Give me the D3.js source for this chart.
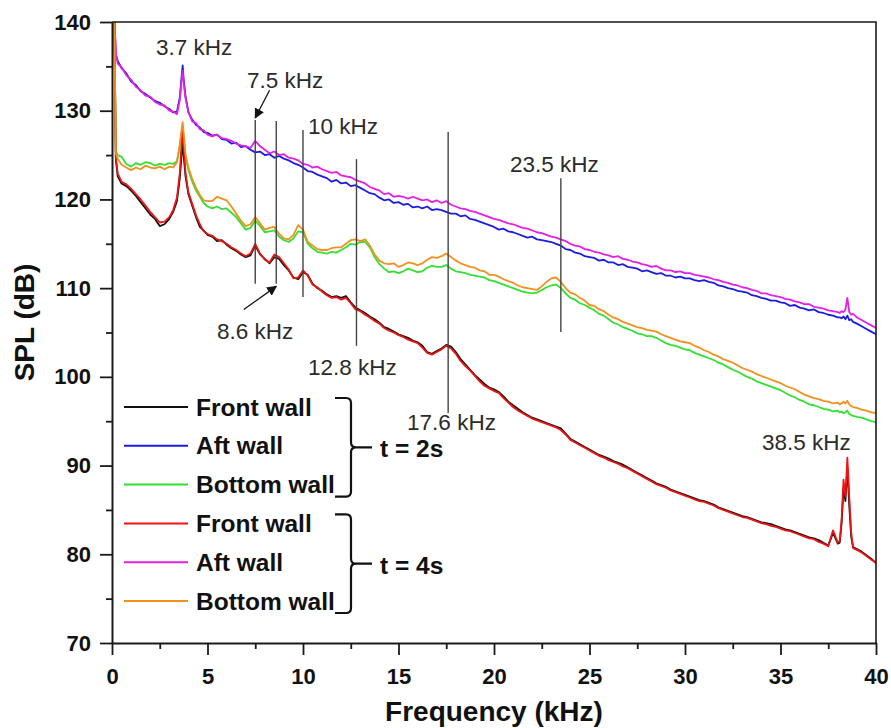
<!DOCTYPE html>
<html>
<head>
<meta charset="utf-8">
<script src="https://cdn.jsdelivr.net/npm/d3@7"></script>
<style>
  html, body { margin: 0; padding: 0; background: #fff; }
  svg { display: block; font-family: "Liberation Sans", Arial, Helvetica, sans-serif; }
</style>
</head>
<body>
<svg id="chart" width="891" height="728"></svg>
<script>
// Sample frequencies (kHz) shared by all six spectra
const freqKHz = [
  0.12,0.2,0.3,0.5,0.75,1,1.25,1.5,1.75,2,2.25,2.5,2.75,3,3.2,3.4,3.55,3.65,3.7,3.75,3.85,4,4.2,4.4,4.6,4.8,5,
  5.25,5.5,5.75,6, 6.25,6.5,6.75,7, 7.25,7.5,7.75,8, 8.25,8.5,8.75,9, 9.25,9.5,9.75,10,
  10.25,10.5,10.75,11, 11.25,11.5,11.75,12, 12.25,12.5,12.75,13, 13.25,13.5,13.75,14, 14.25,14.5,14.75,15,
  15.25,15.5,15.75,16, 16.25,16.5,16.75,17, 17.25,17.5,17.75,18, 18.25,18.5,18.75,19, 19.25,19.5,19.75,20,
  20.25,20.5,20.75,21, 21.25,21.5,21.75,22, 22.25,22.5,22.75,23, 23.25,23.5,23.75,24, 24.25,24.5,24.75,25,
  25.25,25.5,25.75,26, 26.25,26.5,26.75,27, 27.25,27.5,27.75,28, 28.25,28.5,28.75,29, 29.25,29.5,29.75,30,
  30.25,30.5,30.75,31, 31.25,31.5,31.75,32, 32.25,32.5,32.75,33, 33.25,33.5,33.75,34, 34.25,34.5,34.75,35,
  35.25,35.5,35.75,36, 36.25,36.5,36.75,37, 37.25,37.5,37.75,38,
  38.1,38.2,38.3,38.4,38.5,38.6,38.7,38.8,39,39.25,39.5,39.75,40
];

// SPL (dB) at t = 2 s
const frontWall2s = [
  141,124.5,122.6,121.8,121.5,121.0,120.4,119.7,119.0,118.3,117.8,117.0,117.2,117.8,118.6,119.8,122.4,125.2,126.9,125.0,122.6,120.6,119.3,118.0,116.9,116.5,116.0,
  115.8,115.3,115.4,114.9, 114.5,114.2,113.8,113.5, 113.7,114.8,113.8,113.3, 112.8,113.5,113.3,112.6, 112.0,111.2,111.0,111.8,
  111.5,110.5,110.0,109.7, 109.3,109.0,109.1,108.9, 109.1,108.4,107.8,107.5, 107.2,106.8,106.5,106.1, 105.6,105.4,105.1,104.8,
  104.6,104.4,104.1,103.9, 103.5,102.8,102.6,102.9, 103.2,103.6,103.4,102.8, 102.0,101.4,100.8,100.2, 99.7,99.2,98.8,98.6,
  98.3,97.8,97.2,96.8, 96.4,96.0,95.7,95.4, 95.2,95.0,94.8,94.6, 94.4,94.2,93.6,93.0, 92.7,92.4,92.1,91.8,
  91.5,91.2,91.0,90.8, 90.5,90.3,90.1,89.8, 89.5,89.2,88.9,88.6, 88.3,88.0,87.8,87.6, 87.3,87.1,86.9,86.7,
  86.5,86.3,86.1,86.0, 85.8,85.6,85.3,85.1, 84.9,84.7,84.5,84.3, 84.2,84.0,83.8,83.6, 83.5,83.4,83.2,83.0,
  82.8,82.7,82.5,82.3, 82.1,81.9,81.8,81.6, 81.3,81.0,82.4,81.2,
  81.3,83.5,87.5,86.0,89.8,85.5,82.0,80.8,80.6,80.3,79.9,79.5,79.0
];
const aftWall2s = [
  141,136.3,135.6,134.8,134.2,133.3,132.9,132.2,131.9,131.5,131.1,130.9,130.5,130.2,129.8,129.9,131.5,134.0,135.1,133.6,131.6,129.8,129.0,128.4,128.1,127.6,127.5,
  127.2,127.3,126.8,126.7, 126.3,126.4,125.9,126.0, 125.6,125.3,125.4,125.0, 125.1,124.7,124.9,124.6, 124.4,124.1,123.9,123.6,
  123.2,123.1,122.8,122.6, 122.4,122.0,122.2,121.8, 121.9,121.5,121.6,121.3, 121.0,120.7,120.6,120.2, 119.9,120.0,119.6,119.7,
  119.4,119.5,119.1,119.2, 119.0,119.2,118.8,118.9, 118.8,118.6,118.4,118.4, 118.1,118.2,117.8,117.7, 117.5,117.3,117.1,116.9,
  116.6,116.7,116.4,116.3, 116.1,115.9,115.7,115.8, 115.5,115.4,115.3,115.2, 115.0,114.8,114.4,114.3, 114.0,113.9,113.6,113.5,
  113.4,113.1,113.2,112.9, 112.9,112.6,112.7,112.4, 112.3,112.2,111.9,112.0, 111.8,111.6,111.7,111.4, 111.4,111.2,111.3,111.1,
  111.1,110.9,110.8,110.9, 110.7,110.6,110.3,110.2, 110.0,109.9,109.7,109.6, 109.5,109.2,109.1,108.9, 108.8,108.6,108.6,108.4,
  108.3,108.0,108.1,107.8, 107.7,107.5,107.6,107.3, 107.2,107.0,106.9,106.7,
  106.7,106.6,106.8,106.5,106.9,106.4,106.5,106.2,106.0,105.7,105.4,105.1,104.8
];
const bottomWall2s = [
  141,125.4,125.0,124.8,124.0,123.7,124.1,123.9,124.2,124.1,123.8,124.0,123.9,124.1,124.0,124.3,126.0,127.6,128.2,127.0,124.8,123.3,122.0,121.0,120.3,119.6,119.2,
  119.0,119.2,118.9,119.0, 118.5,118.0,117.3,116.6, 116.8,117.6,117.0,116.3, 116.4,116.5,115.8,115.4, 115.2,115.6,116.4,116.3,
  115.0,114.5,114.1,114.0, 113.9,114.1,114.0,114.3, 114.6,115.0,114.9,115.2, 115.2,114.6,113.5,112.7, 112.2,111.8,111.9,111.7,
  111.9,112.2,112.0,111.8, 111.9,112.3,112.5,112.4, 112.4,112.6,112.2,111.9, 111.8,111.7,111.5,111.4, 111.3,111.2,110.9,110.8,
  110.6,110.4,110.2,110.0, 109.8,109.6,109.5,109.4, 109.5,109.8,110.1,110.3, 110.4,110.0,109.4,108.9, 108.7,108.3,108.1,107.8,
  107.5,107.1,106.9,106.5, 106.1,105.9,105.6,105.4, 105.2,104.9,104.8,104.6, 104.6,104.4,104.1,103.8, 103.6,103.5,103.3,103.1,
  103.0,102.7,102.5,102.3, 102.1,101.9,101.6,101.4, 101.1,100.8,100.6,100.3, 100.0,99.8,99.5,99.3, 99.1,98.9,98.7,98.5,
  98.2,97.9,97.7,97.4, 97.2,96.9,96.8,96.6, 96.4,96.3,96.1,96.2,
  96.0,96.1,95.9,96.0,96.2,95.8,95.7,95.6,95.5,95.4,95.2,95.0,94.9
];

// SPL (dB) at t = 4 s
const frontWall4s = [
  141,124.8,122.9,122.0,121.7,121.2,120.6,120.0,119.3,118.6,118.0,117.4,117.5,118.0,118.8,120.2,123.0,126.5,128.2,126.0,123.0,120.8,119.5,118.2,117.2,116.4,116.1,
  115.9,115.5,115.3,115.0, 114.6,114.3,113.9,113.6, 113.9,115.0,113.9,113.2, 112.9,113.8,113.5,112.8, 112.1,111.1,111.2,112.0,
  111.4,110.4,110.1,109.6, 109.2,108.9,109.0,108.7, 108.9,108.3,107.6,107.4, 107.0,106.7,106.3,106.0, 105.5,105.2,105.0,104.7,
  104.5,104.2,104.0,103.8, 103.3,102.7,102.5,102.8, 103.1,103.5,103.2,102.6, 101.8,101.2,100.7,100.1, 99.5,99.0,98.7,98.4,
  98.2,97.6,97.1,96.6, 96.2,95.9,95.6,95.3, 95.1,94.9,94.7,94.5, 94.3,94.0,93.5,92.9, 92.6,92.3,92.0,91.7,
  91.4,91.1,90.9,90.6, 90.4,90.2,89.9,89.7, 89.4,89.1,88.8,88.5, 88.2,87.9,87.7,87.5, 87.2,87.0,86.8,86.6,
  86.4,86.2,86.0,85.9, 85.7,85.5,85.2,85.0, 84.8,84.6,84.4,84.2, 84.1,83.9,83.7,83.5, 83.4,83.2,83.1,82.9,
  82.7,82.6,82.4,82.2, 82.0,81.8,81.7,81.4, 81.2,80.9,82.7,81.3,
  81.5,84.0,88.4,86.5,90.9,86.5,82.5,80.7,80.5,80.2,79.8,79.4,79.1
];
const aftWall4s = [
  141,136.5,135.3,134.9,134.0,133.5,132.7,132.3,131.7,131.6,131.0,130.7,130.6,130.0,129.9,129.6,131.2,133.6,134.5,133.2,131.4,129.9,128.8,128.6,127.9,127.8,127.3,
  127.1,127.3,126.9,126.8, 126.6,126.3,126.1,126.0, 125.8,126.6,126.0,125.6, 125.2,125.4,125.0,125.1, 124.7,124.6,124.4,124.0,
  123.9,123.6,123.7,123.4, 123.2,123.0,123.1,122.7, 122.6,122.5,122.2,122.0, 121.8,121.4,121.2,121.0, 120.6,120.7,120.3,120.4,
  120.3,120.1,120.3,120.1, 119.9,120.0,119.7,119.9, 119.6,119.8,119.4,119.2, 119.0,118.9,118.7,118.6, 118.4,118.2,118.0,117.8,
  117.7,117.5,117.3,117.2, 117.0,116.8,116.7,116.5, 116.3,116.2,116.0,115.8, 115.7,115.5,115.3,115.0, 114.8,114.7,114.4,114.3,
  114.1,114.0,113.8,113.7, 113.5,113.6,113.3,113.2, 113.0,112.9,112.7,112.6, 112.4,112.5,112.2,112.0, 112.0,111.8,111.9,111.7,
  111.7,111.5,111.4,111.3, 111.2,111.0,110.9,110.7, 110.6,110.4,110.3,110.1, 110.0,109.8,109.7,109.4, 109.4,109.2,109.1,109.0,
  108.8,108.7,108.5,108.4, 108.2,108.2,107.9,107.8, 107.7,107.5,107.4,107.3,
  107.2,107.4,107.3,107.6,108.9,107.3,107.0,107.1,106.7,106.4,106.1,105.8,105.5
];
const bottomWall4s = [
  141,125.2,124.6,123.9,123.6,123.3,123.6,123.4,123.8,123.6,123.5,123.7,123.4,123.7,123.6,124.2,126.2,128.0,128.7,127.5,125.0,123.6,122.3,121.3,120.5,119.9,119.8,
  119.8,120.3,120.1,119.9, 119.2,118.4,117.6,117.0, 117.2,118.0,117.3,116.6, 116.8,116.9,116.1,115.6, 115.5,116.0,117.1,116.6,
  115.2,114.8,114.4,114.3, 114.3,114.5,114.6,114.6, 115.0,115.4,115.5,115.3, 115.5,114.8,113.8,113.1, 112.8,112.7,112.8,112.4,
  112.6,112.9,112.8,112.6, 112.8,113.2,113.5,113.4, 113.6,113.9,113.5,113.1, 112.8,112.6,112.4,112.3, 112.0,111.9,111.5,111.5,
  111.3,111.0,110.8,110.6, 110.3,110.1,110.0,109.9, 109.8,110.2,110.7,111.1, 111.2,110.7,110.0,109.5, 109.3,108.9,108.6,108.1,
  108.0,107.6,107.4,107.0, 106.7,106.5,106.2,106.0, 105.8,105.6,105.5,105.3, 105.2,105.1,104.8,104.6, 104.4,104.2,104.0,103.9,
  103.8,103.5,103.3,103.0, 102.8,102.5,102.3,102.0, 101.8,101.6,101.3,101.0, 100.8,100.6,100.3,100.1, 99.9,99.7,99.5,99.3,
  99.0,98.8,98.6,98.3, 98.0,97.8,97.6,97.5, 97.3,97.2,97.0,97.1,
  96.9,97.0,97.2,97.0,97.3,96.9,96.7,96.6,96.5,96.3,96.2,96.0,95.9
];

// Axis ticks
const xTicks = [0, 5, 10, 15, 20, 25, 30, 35, 40];
const xMinorTicks = [2.5, 7.5, 12.5, 17.5, 22.5, 27.5, 32.5, 37.5];
const yTicks = [70, 80, 90, 100, 110, 120, 130, 140];
const yMinorTicks = [75, 85, 95, 105, 115, 125, 135];

// Series, in drawing order (later ones drawn on top)
const series = [
  { name: "Front wall",  group: "t2", color: "#111111", values: frontWall2s },
  { name: "Aft wall",    group: "t2", color: "#1c1ce0", values: aftWall2s },
  { name: "Bottom wall", group: "t2", color: "#33e033", values: bottomWall2s },
  { name: "Front wall",  group: "t4", color: "#ee1414", values: frontWall4s },
  { name: "Aft wall",    group: "t4", color: "#e420e4", values: aftWall4s },
  { name: "Bottom wall", group: "t4", color: "#f2901e", values: bottomWall4s }
];

// Peak markers: vertical line span (dB) and label anchor (kHz, dB)
const peakMarks = [
  { f: 3.7,  label: "3.7 kHz",  lx: 2.30,  ly: 136.3 },
  { f: 7.5,  label: "7.5 kHz",  from: 128.96, to: 110.5, lx: 7.07, ly: 132.56,
    arrow: { f0: 8.25, v0: 132.3, v1: 129.2 } },
  { f: 8.6,  label: "8.6 kHz",  from: 128.85, to: 110.5, lx: 5.50, ly: 104.27,
    arrow: { f0: 6.9, v0: 107.6, v1: 110.2 } },
  { f: 10,   label: "10 kHz",   from: 127.83, to: 109.0, lx: 10.26, ly: 127.38 },
  { f: 12.8, label: "12.8 kHz", from: 124.54, to: 103.5, lx: 10.26, ly: 100.21 },
  { f: 17.6, label: "17.6 kHz", from: 127.6,  to: 95.93, lx: 15.45, ly: 94.0 },
  { f: 23.5, label: "23.5 kHz", from: 122.4,  to: 105.06, lx: 20.84, ly: 123.1 },
  { f: 38.5, label: "38.5 kHz", lx: 34.03, ly: 91.76 }
];

const svg = d3.select("#chart");
const plot = { left: 112, right: 876, top: 22, bottom: 643 };

const x = d3.scaleLinear().domain([0, 40]).range([plot.left, plot.right]);
const y = d3.scaleLinear().domain([70, 140]).range([plot.bottom, plot.top]);

const defs = svg.append("defs");
defs.append("clipPath").attr("id", "plot-clip")
  .append("rect")
  .attr("x", plot.left).attr("y", plot.top)
  .attr("width", plot.right - plot.left).attr("height", plot.bottom - plot.top);
defs.append("marker")
  .attr("id", "arrowhead")
  .attr("viewBox", "0 0 10 10")
  .attr("refX", 9).attr("refY", 5)
  .attr("markerWidth", 10).attr("markerHeight", 10)
  .attr("markerUnits", "userSpaceOnUse")
  .attr("orient", "auto")
  .append("path").attr("d", "M0,0 L10,5 L0,10 Z").attr("fill", "#111");

// Spectra
const line = d3.line()
  .x((d, i) => x(freqKHz[i]))
  .y(d => y(d));

svg.append("g").attr("clip-path", "url(#plot-clip)")
  .selectAll("path")
  .data(series)
  .join("path")
  .attr("d", s => line(s.values))
  .attr("fill", "none")
  .attr("stroke", s => s.color)
  .attr("stroke-width", 1.8)
  .attr("stroke-linejoin", "round");

// Peak markers
const marks = svg.append("g").attr("class", "peak-marks");
peakMarks.filter(m => m.from !== undefined).forEach(m => {
  marks.append("line")
    .attr("x1", x(m.f)).attr("x2", x(m.f))
    .attr("y1", y(m.from)).attr("y2", y(m.to))
    .attr("stroke", "#444").attr("stroke-width", 1.4);
});
peakMarks.filter(m => m.arrow).forEach(m => {
  marks.append("line")
    .attr("x1", x(m.arrow.f0)).attr("y1", y(m.arrow.v0))
    .attr("x2", x(m.f)).attr("y2", y(m.arrow.v1))
    .attr("stroke", "#111").attr("stroke-width", 1.3)
    .attr("marker-end", "url(#arrowhead)");
});
marks.selectAll("text")
  .data(peakMarks)
  .join("text")
  .attr("x", m => x(m.lx))
  .attr("y", m => y(m.ly))
  .attr("font-size", 22.5)
  .attr("fill", "#2b2b2b")
  .text(m => m.label);

// Axes
const xAxis = svg.append("g")
  .attr("transform", `translate(0,${plot.bottom})`)
  .call(d3.axisBottom(x).tickValues(xTicks).tickSize(12).tickSizeOuter(0).tickPadding(13));
const xMinor = svg.append("g")
  .attr("transform", `translate(0,${plot.bottom})`)
  .call(d3.axisBottom(x).tickValues(xMinorTicks).tickSize(6).tickFormat(""));
const yAxis = svg.append("g")
  .attr("transform", `translate(${plot.left},0)`)
  .call(d3.axisLeft(y).tickValues(yTicks).tickSize(12).tickSizeOuter(0).tickPadding(9));
const yMinor = svg.append("g")
  .attr("transform", `translate(${plot.left},0)`)
  .call(d3.axisLeft(y).tickValues(yMinorTicks).tickSize(6).tickFormat(""));

[xAxis, xMinor, yAxis, yMinor].forEach(g => {
  g.selectAll(".domain").attr("stroke", "#1a1a1a").attr("stroke-width", 2);
  g.selectAll(".tick line").attr("stroke", "#1a1a1a").attr("stroke-width", 1.8);
  g.selectAll(".tick text")
    .attr("font-family", "'Liberation Sans', Arial, sans-serif")
    .attr("font-size", 22).attr("font-weight", "bold").attr("fill", "#111");
});
xMinor.select(".domain").remove();
yMinor.select(".domain").remove();

// Frame: top and right edges
svg.append("path")
  .attr("d", `M${plot.left},${plot.top}H${plot.right}V${plot.bottom}`)
  .attr("fill", "none").attr("stroke", "#1a1a1a").attr("stroke-width", 1.6);

// Axis titles
svg.append("text")
  .attr("x", (plot.left + plot.right) / 2)
  .attr("y", 721)
  .attr("text-anchor", "middle")
  .attr("font-size", 28).attr("font-weight", "bold").attr("fill", "#111")
  .text("Frequency (kHz)");
svg.append("text")
  .attr("transform", `translate(34,${(plot.top + plot.bottom) / 2 - 10}) rotate(-90)`)
  .attr("text-anchor", "middle")
  .attr("font-size", 28).attr("font-weight", "bold").attr("fill", "#111")
  .text("SPL (dB)");

// Legend
const legend = svg.append("g").attr("transform", "translate(124,407)");
const rowGap = 38.8;
series.forEach((s, i) => {
  const row = legend.append("g").attr("transform", `translate(0,${i * rowGap})`);
  row.append("line")
    .attr("x1", 0).attr("x2", 64).attr("y1", 0).attr("y2", 0)
    .attr("stroke", s.color).attr("stroke-width", 2);
  row.append("text")
    .attr("x", 72).attr("y", 8.6)
    .attr("font-size", 24.5).attr("font-weight", "bold").attr("fill", "#111")
    .text(s.name);
});

// Group braces with time labels
const groups = [
  { label: "t = 2s", first: 0 },
  { label: "t = 4s", first: 3 }
];
groups.forEach(g => {
  const top = g.first * rowGap - 9;
  const bot = (g.first + 2) * rowGap + 12;
  const mid = (top + bot) / 2;
  const bx = 227;
  legend.append("path")
    .attr("d", `M${bx - 16},${top}H${bx - 5}Q${bx},${top} ${bx},${top + 5}V${mid - 5}Q${bx},${mid} ${bx + 5},${mid}H${bx + 21}` +
               `M${bx + 5},${mid}Q${bx},${mid} ${bx},${mid + 5}V${bot - 5}Q${bx},${bot} ${bx - 5},${bot}H${bx - 16}`)
    .attr("fill", "none").attr("stroke", "#111").attr("stroke-width", 2.2);
  legend.append("text")
    .attr("x", bx + 29).attr("y", mid + 10)
    .attr("font-size", 24.5).attr("font-weight", "bold").attr("fill", "#111")
    .text(g.label);
});
</script>
</body>
</html>
